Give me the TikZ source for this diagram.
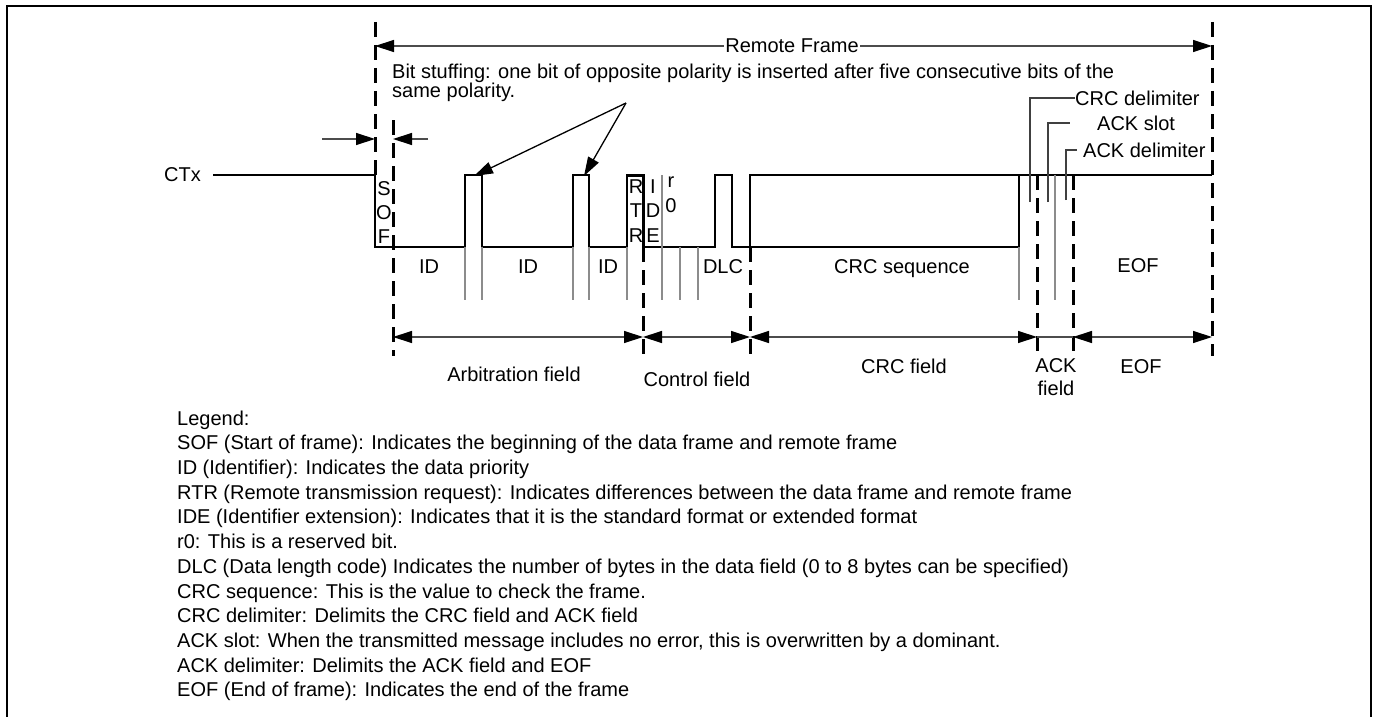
\documentclass[tikz,border=0pt]{standalone}
\usepackage{fontspec}
\setmainfont{Liberation Sans}
\usetikzlibrary{arrows.meta}
\tikzset{
  dimarrow/.style={line width=1.3pt, draw=black!70,
    {Triangle[length=19pt,width=12pt,color=black]}-{Triangle[length=19pt,width=12pt,color=black]}},
  onearrow/.style={line width=1.3pt, draw=black!70,
    -{Triangle[length=19pt,width=12pt,color=black]}},
  boundary/.style={line width=3pt, dash pattern=on 15pt off 8pt},
  bittick/.style={line width=1.2pt, draw=black!45},
  leader/.style={line width=1.1pt, draw=black!75},
  signal/.style={line width=2pt, line join=miter},
  lbl/.style={inner sep=0pt, anchor=base}
}

\begin{document}
\begin{tikzpicture}[x=1pt, y=-1pt, font=\fontsize{20}{24}\selectfont]
  \useasboundingbox (0,0) rectangle (1374,717);

  % frame round the figure (open at the bottom)
  \draw[line width=2.5pt] (7,730) -- (7,6) -- (1371,6) -- (1371,730);

  % field boundaries
  \draw[boundary] (375,22) -- (375,175);
  \foreach \x/\ya in {393/120, 643/247, 750/247, 1037/175, 1073/175, 1212/22}
    \draw[boundary] (\x,\ya) -- (\x,356);

  % remote frame
  \node[inner sep=1.5pt] (remote) at (792,46) {Remote Frame};
  \coordinate (rfL) at (375,46);
  \coordinate (rfR) at (1212,46);
  \draw[onearrow] (remote.west) -- (rfL);
  \draw[onearrow] (remote.east) -- (rfR);

  % width of SOF
  \coordinate (sofA) at (322,139);
  \coordinate (sofB) at (375,139);
  \coordinate (sofC) at (428,139);
  \coordinate (sofD) at (393,139);
  \draw[onearrow] (sofA) -- (sofB);
  \draw[onearrow] (sofC) -- (sofD);

  % bit stuffing note
  \node[anchor=north west, inner sep=0pt, align=left,
        font=\fontsize{20}{19.5}\selectfont] (stuffnote) at (392,63.5)
    {Bit stuffing: one bit of opposite polarity is inserted after five consecutive bits of the\\
     same polarity.};
  \coordinate (stuff) at (626,103);
  \coordinate (pulseA) at (474,176);
  \coordinate (pulseB) at (584,176);
  \draw[onearrow, draw=black] (stuff) -- (pulseA);
  \draw[onearrow, draw=black] (stuff) -- (pulseB);

  % CTx waveform
  \node[anchor=east, inner sep=0pt] (ctx) at (201,175) {CTx};
  \draw[signal] ([xshift=12pt]ctx.east) -- (375,175) -- (375,247)
    -- (465,247) -- (465,175) -- (482,175) -- (482,247)
    -- (573,247) -- (573,175) -- (589,175) -- (589,247)
    -- (627,247) -- (627,175) -- (643,175) -- (643,247)
    -- (715,247) -- (715,175) -- (732,175) -- (732,247)
    -- (750,247) -- (750,175) -- (1212,175);
  \draw[signal] (750,247) -- (1019,247) -- (1019,175);
  % RTR bit drawn heavier
  \draw[line width=3pt] (627,175) -- (643,175) -- (643,247);

  % bit ticks
  \foreach \x in {465,482,573,589,627,680,698,1019}
    \draw[bittick] (\x,247) -- (\x,300);
  \foreach \x in {662,1055}
    \draw[bittick] (\x,175) -- (\x,300);

  % leaders to the small fields
  \node[anchor=west, inner sep=0pt] (crcdel) at (1075,98) {CRC delimiter};
  \draw[leader] (1030,202) -- (1030,98) -- (crcdel.west);
  \node[anchor=west, inner sep=0pt] (ackslot) at (1097,123) {ACK slot};
  \coordinate (ackslotE) at (1070,123);
  \draw[leader] (1048,202) -- (1048,123) -- (ackslotE);
  \node[anchor=west, inner sep=0pt] (ackdel) at (1083,150) {ACK delimiter};
  \coordinate (ackdelE) at (1077,150);
  \draw[leader] (1066,200) -- (1066,150) -- (ackdelE);

  % bit names
  \foreach \c/\y [count=\i] in {S/195, O/219, F/243}
    \node[lbl] (sof\i) at (384,\y) {\c};
  \foreach \c/\y [count=\i] in {R/193, T/217, R/242}
    \node[lbl] (rtr\i) at (636,\y) {\c};
  \foreach \c/\y [count=\i] in {I/193, D/217, E/242}
    \node[lbl] (ide\i) at (653,\y) {\c};
  \foreach \c/\y [count=\i] in {r/187, 0/212}
    \node[lbl] (rzero\i) at (671,\y) {\c};
  \foreach \x [count=\i] in {429,528,608}
    \node[lbl] (id\i) at (\x,273) {ID};
  \node[lbl] (dlc) at (723,273) {DLC};
  \node[lbl] (crcseq) at (902,273) {CRC sequence};
  \node[lbl] (eof) at (1138,272) {EOF};

  % fields
  \foreach \x [count=\i] in {393,643,750,1037,1073,1212}
    \coordinate (f\i) at (\x,337);
  \draw[dimarrow] (f1) -- (f2);
  \draw[dimarrow] (f2) -- (f3);
  \draw[dimarrow] (f3) -- (f4);
  \draw[line width=1.3pt, draw=black!70] (f4) -- (f5);
  \draw[dimarrow] (f5) -- (f6);
  \node[lbl] (arbf) at (514,381) {Arbitration field};
  \node[lbl] (ctrlf) at (697,386) {Control field};
  \node[lbl] (crcf) at (904,373) {CRC field};
  \node[anchor=north, inner sep=0pt, align=center,
        font=\fontsize{20}{23}\selectfont] (ackf) at (1056,358.7) {ACK\\field};
  \node[lbl] (eoff) at (1141,373) {EOF};

  % legend
  \node[anchor=north west, inner sep=0pt, align=left,
        font=\fontsize{20}{24.7}\selectfont] (legend) at (177,410.5)
    {Legend:\\
     SOF (Start of frame): Indicates the beginning of the data frame and remote frame\\
     ID (Identifier): Indicates the data priority\\
     RTR (Remote transmission request): Indicates differences between the data frame and remote frame\\
     IDE (Identifier extension): Indicates that it is the standard format or extended format\\
     r0: This is a reserved bit.\\
     DLC (Data length code) Indicates the number of bytes in the data field (0 to 8 bytes can be specified)\\
     CRC sequence: This is the value to check the frame.\\
     CRC delimiter: Delimits the CRC field and ACK field\\
     ACK slot: When the transmitted message includes no error, this is overwritten by a dominant.\\
     ACK delimiter: Delimits the ACK field and EOF\\
     EOF (End of frame): Indicates the end of the frame};
\end{tikzpicture}
\end{document}
